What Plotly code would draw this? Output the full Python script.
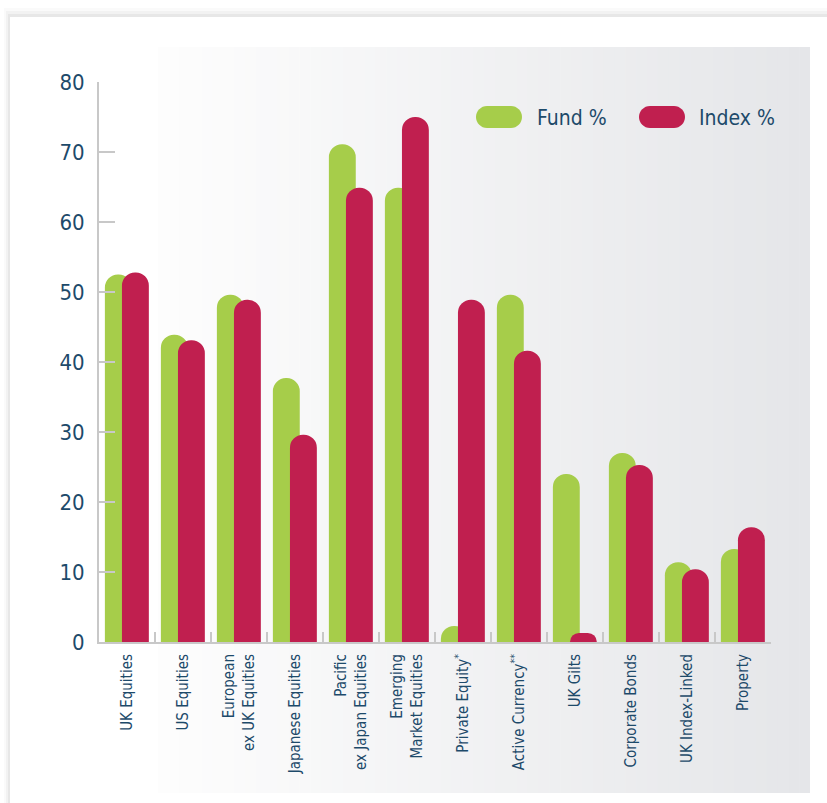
import plotly.graph_objects as go

categories = ["UK Equities", "US Equities", "European<br>ex UK Equities", "Japanese Equities",
              "Pacific<br>ex Japan Equities", "Emerging<br>Market Equities",
              "Private Equity<sup>*</sup>", "Active Currency<sup>**</sup>", "UK Gilts",
              "Corporate Bonds", "UK Index-Linked", "Property"]
fund_pct = [52.5, 43.9, 49.6, 37.7, 71.1, 64.9, 2.3, 49.6, 24.0, 27.0, 11.4, 13.3]
index_pct = [52.8, 43.1, 48.9, 29.6, 64.9, 75.0, 48.9, 41.6, 1.3, 25.3, 10.4, 16.4]
y_ticks = [0, 10, 20, 30, 40, 50, 60, 70, 80]
series_names = ["Fund %", "Index %"]

GREEN = "#a6cd4a"
RED = "#c01f4f"
TEXT = "#1d4a6a"
FONT = "DejaVu Sans Condensed, sans-serif"

W, H = 827, 803
L, R, T, B = 99, 56, 82, 161
PW, PH = W - L - R, H - T - B


def px(x):
    return (x - L) / PW


def py(y):
    return (H - B - y) / PH


fig = go.Figure()
fig.add_trace(go.Bar(x=categories, y=fund_pct, name=series_names[0], width=0.48, offset=-0.395,
                     marker=dict(color=GREEN, cornerradius="50%", line=dict(width=0)),
                     showlegend=False))
fig.add_trace(go.Bar(x=categories, y=index_pct, name=series_names[1], width=0.48, offset=-0.09,
                     marker=dict(color=RED, cornerradius="50%", line=dict(width=0)),
                     showlegend=False))

shapes = []
# card shadow
for i, a in enumerate([0.02, 0.03, 0.045]):
    shapes.append(dict(type="rect", xref="paper", yref="paper", layer="below",
                       x0=px(4 + 2 * i), x1=px(W + 5), y0=py(8 + 3 * i), y1=py(H + 5),
                       fillcolor=f"rgba(0,0,0,{a})", line=dict(width=0)))
shapes.append(dict(type="rect", xref="paper", yref="paper", layer="below",
                   x0=px(10), x1=px(W + 5), y0=py(17), y1=py(H + 5),
                   fillcolor="white", line=dict(width=0)))
# gradient panel
gx0, gx1, gy0, gy1 = 158, 810, 47, 793
n = 60
c0 = (253, 253, 253)
c1 = (229, 230, 233)
for i in range(n):
    t = i / (n - 1)
    c = tuple(round(c0[k] + (c1[k] - c0[k]) * t) for k in range(3))
    xa = gx0 + (gx1 - gx0) * i / n
    xb = gx0 + (gx1 - gx0) * (i + 1) / n + 0.6
    shapes.append(dict(type="rect", xref="paper", yref="paper", layer="below",
                       x0=px(xa), x1=px(min(xb, gx1)), y0=py(gy0), y1=py(gy1),
                       fillcolor=f"rgb{c}", line=dict(width=0)))


def pill(x0, x1, y0, y1, color):
    r = (y1 - y0) / 2
    yc = (y0 + y1) / 2
    k = 0.552 * r
    pts = [("M", [(x0 + r, y0)]), ("L", [(x1 - r, y0)]),
           ("C", [(x1 - r + k, y0), (x1, yc - k), (x1, yc)]),
           ("C", [(x1, yc + k), (x1 - r + k, y1), (x1 - r, y1)]),
           ("L", [(x0 + r, y1)]),
           ("C", [(x0 + r - k, y1), (x0, yc + k), (x0, yc)]),
           ("C", [(x0, yc - k), (x0 + r - k, y0), (x0 + r, y0)])]
    path = ""
    for cmd, ps in pts:
        path += cmd + " " + " ".join(f"{px(a):.5f},{py(b):.5f}" for a, b in ps) + " "
    path += "Z"
    return dict(type="path", xref="paper", yref="paper", path=path,
                fillcolor=color, line=dict(width=0))


shapes.append(pill(476, 522, 106, 128, GREEN))
shapes.append(pill(639, 685, 106, 128, RED))

annotations = [
    dict(text=series_names[0], xref="paper", yref="paper", x=px(535), y=py(118),
         xanchor="left", yanchor="middle", showarrow=False, font=dict(size=21, color=TEXT, family=FONT)),
    dict(text=series_names[1], xref="paper", yref="paper", x=px(697), y=py(118),
         xanchor="left", yanchor="middle", showarrow=False, font=dict(size=21, color=TEXT, family=FONT)),
]

fig.update_layout(
    width=W, height=H,
    margin=dict(l=L, r=R, t=T, b=B, pad=0),
    paper_bgcolor="white", plot_bgcolor="rgba(0,0,0,0)",
    barmode="overlay",
    shapes=shapes, annotations=annotations,
    font=dict(family=FONT, color=TEXT),
    xaxis=dict(type="category", tickangle=-90, tickfont=dict(size=15, color=TEXT, family=FONT),
               showline=True, linecolor="#c8c8c8", linewidth=2, ticks="inside", tickson="boundaries",
               ticklen=10, tickcolor="#c8c8c8", tickwidth=1.5, showgrid=False, zeroline=False,
               range=[-0.5, 11.5], ticklabelstandoff=4),
    yaxis=dict(range=[0, 80], tickvals=y_ticks, tickfont=dict(size=22, color=TEXT, family=FONT),
               showline=True, linecolor="#c8c8c8", linewidth=2, ticks="inside", ticklen=16,
               tickcolor="#c8c8c8", tickwidth=2, showgrid=False, zeroline=False,
               ticklabelstandoff=8),
)

fig.write_html("out.html")
